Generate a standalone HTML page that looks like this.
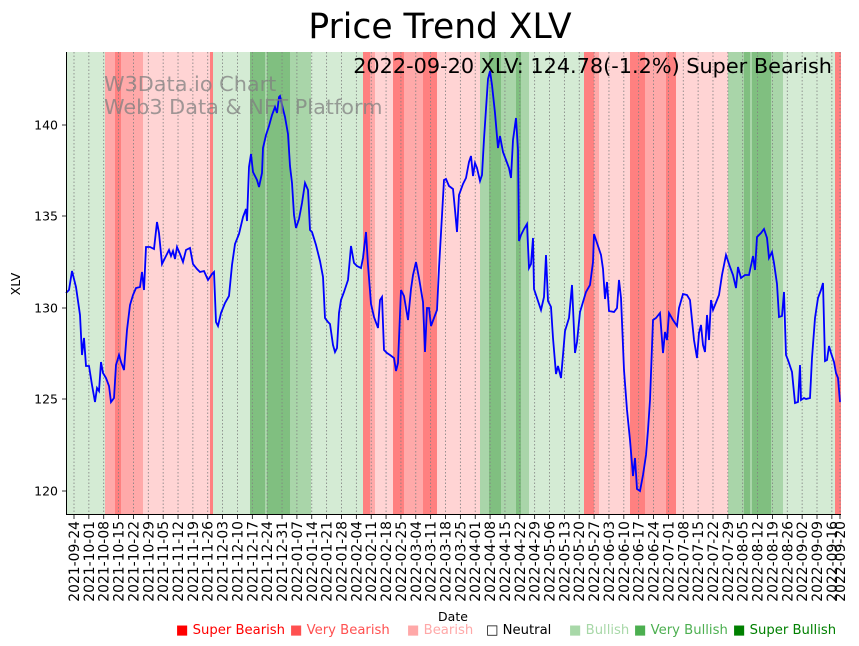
<!DOCTYPE html>
<html><head><meta charset="utf-8"><style>
body{margin:0;background:#fff;}
svg{display:block;font-family:"DejaVu Sans","Liberation Sans",sans-serif;}
</style></head><body>
<svg id="s" width="859" height="646" xmlns="http://www.w3.org/2000/svg">
<g id="bands"></g>
<g id="grid"></g>
<polyline id="line" fill="none" stroke="#0000ff" stroke-width="1.8" points="66,293 69,290 72,271 76,287 80,315 82,355 84,338 86,366 89,366 92,385 95,402 97,388 99,391 101,362 103,373 106,378 109,386 111,402 114,398 116,365 119,355 121,362 124,370 127,330 130,305 133,295 136,288 140,287 142,272 144,290 146,247 150,247 154,249 157,222 159,233 162,264 166,256 169,250 171,256 173,251 175,259 177,247 180,254 183,262 186,250 190,248 193,264 197,269 200,272 204,271 208,280 212,274 214,272 216,322 218,326 221,313 225,303 229,296 232,265 235,244 239,234 243,217 246,209 247,221 249,167 251,154 253,172 257,180 259,187 262,173 263,148 266,135 269,126 272,115 275,107 277,113 279,97 280,96 283,109 285,117 288,134 290,166 292,183 294,215 296,228 299,219 302,203 305,183 308,190 310,230 312,232 316,245 320,261 323,277 325,318 328,322 330,324 333,345 335,352 337,348 339,313 341,300 344,292 348,280 351,246 354,263 357,266 361,268 363,258 366,232 368,265 371,304 374,317 378,328 380,300 382,297 384,350 387,353 390,355 394,358 396,371 398,363 401,290 404,296 408,320 411,289 413,275 416,262 419,278 423,302 425,352 427,308 429,308 431,326 434,318 437,310 439,268 441,233 444,180 446,179 449,186 453,189 455,210 457,232 459,195 463,184 466,178 469,162 471,156 473,176 475,163 477,168 480,181 482,175 484,139 488,79 490,71 492,85 495,113 498,148 500,136 503,152 506,160 509,168 511,178 513,140 516,118 518,150 519,241 521,235 524,229 527,224 529,268 531,264 533,238 534,289 537,298 541,310 544,297 546,255 548,301 551,307 553,338 556,374 558,366 561,378 563,355 565,331 569,318 572,285 575,353 577,342 580,312 583,302 586,292 590,285 593,262 594,234 597,243 601,255 603,269 605,299 607,282 609,311 614,312 617,308 619,280 621,298 624,370 627,410 630,440 633,476 635,458 637,489 640,491 643,475 646,455 648,430 650,400 653,320 656,318 660,313 663,353 665,332 667,340 669,313 673,320 677,326 679,308 683,294 687,295 690,300 694,340 697,358 699,333 701,325 703,345 705,352 707,315 709,340 711,300 713,310 717,300 719,295 722,275 726,255 730,267 733,275 736,288 738,267 741,278 745,275 749,275 753,256 755,270 757,237 761,233 764,229 767,238 769,258 772,252 774,263 777,284 779,317 782,316 784,292 786,355 788,360 792,372 795,403 798,402 800,365 801,400 804,398 806,399 810,398 812,358 815,318 818,298 821,290 823,283 825,361 827,360 829,346 831,353 834,362 836,373 838,378 840,402"/>
<line x1="66.5" y1="52" x2="66.5" y2="514" stroke="#000" stroke-width="1"/>
<line x1="66" y1="514.5" x2="841" y2="514.5" stroke="#000" stroke-width="1"/>
<g id="yt" font-size="12.5" text-anchor="end"></g>
<g id="xt" font-size="13.9"></g>
<text x="440" y="38" font-size="34.5" text-anchor="middle">Price Trend XLV</text>
<text x="832" y="73" font-size="20.8" text-anchor="end">2022-09-20 XLV: 124.78(-1.2%) Super Bearish</text>
<text x="104" y="91" font-size="20.8" fill="#808080" fill-opacity="0.75">W3Data.io Chart</text>
<text x="104" y="114" font-size="20.8" fill="#808080" fill-opacity="0.75">Web3 Data &amp; NFT Platform</text>
<text x="20" y="284" font-size="12.5" text-anchor="middle" transform="rotate(-90 20 284)">XLV</text>
<text x="453" y="621" font-size="12.5" text-anchor="middle">Date</text>
<g font-size="13.2">
<text x="176" y="634" fill="#ff0000">■ Super Bearish</text>
<text x="290" y="634" fill="#ff5050">■ Very Bearish</text>
<text x="407" y="634" fill="#ffa8a8">■ Bearish</text>
<text x="486" y="634" fill="#000">□ Neutral</text>
<text x="569" y="634" fill="#a8d8a8">■ Bullish</text>
<text x="634" y="634" fill="#4caf50">■ Very Bullish</text>
<text x="733" y="634" fill="#008000">■ Super Bullish</text>
</g>
</svg>
<script>
const NS="http://www.w3.org/2000/svg";
function el(p,t,a,txt){const e=document.createElementNS(NS,t);for(const k in a)e.setAttribute(k,a[k]);if(txt)e.textContent=txt;document.getElementById(p).appendChild(e);}
const C={lg:"#d4ebd4",mg:"#a9d5a9",dg:"#80bf80",lr:"#ffd4d4",mr:"#ffa9a9",dr:"#ff8080"};
const B=[[66,105,"lg"],[105,115,"mr"],[115,121,"dr"],[121,143,"mr"],[143,210,"lr"],[210,213,"dr"],[213,250,"lg"],[250,265,"dg"],[265,267,"mg"],[267,290,"dg"],[290,311,"mg"],[311,363,"lg"],[363,370,"dr"],[370,375,"mr"],[375,393,"lr"],[393,404,"dr"],[404,423,"mr"],[423,437,"dr"],[437,480,"lr"],[480,489,"mg"],[489,501,"dg"],[501,516,"mg"],[516,521,"dg"],[521,529,"mg"],[529,584,"lg"],[584,594,"dr"],[594,599,"mr"],[599,630,"lr"],[630,645,"dr"],[645,666,"mr"],[666,676,"dr"],[676,728,"lr"],[728,744,"mg"],[744,750,"dg"],[750,752,"mg"],[752,771,"dg"],[771,783,"mg"],[783,835,"lg"],[835,841,"dr"]];
B.forEach(b=>el("bands","rect",{x:b[0],y:52,width:b[1]-b[0],height:462,fill:C[b[2]]}));
const start=new Date(Date.UTC(2021,8,24));
for(let k=0;k<53;k++){
  let d,x;
  if(k<52){d=new Date(start.getTime()+k*7*864e5);x=74+k*14.86;}
  else{d=new Date(Date.UTC(2022,8,20));x=840;}
  const s=d.toISOString().slice(0,10);
  el("grid","line",{x1:x,y1:52,x2:x,y2:514,stroke:"#808080","stroke-width":0.8,"stroke-dasharray":"1.5,2"});
  el("grid","line",{x1:x,y1:514,x2:x,y2:519,stroke:"#000","stroke-width":0.8});
  el("xt","text",{x:0,y:0,"text-anchor":"end",transform:`translate(${x+5},521) rotate(-90)`},s);
}
[[120,491],[125,399],[130,308],[135,216],[140,125]].forEach(t=>{
  el("yt","line",{x1:62,y1:t[1],x2:66,y2:t[1],stroke:"#000","stroke-width":0.8});
  el("yt","text",{x:58,y:t[1]+4.5},String(t[0]));
});
</script>
</body></html>
